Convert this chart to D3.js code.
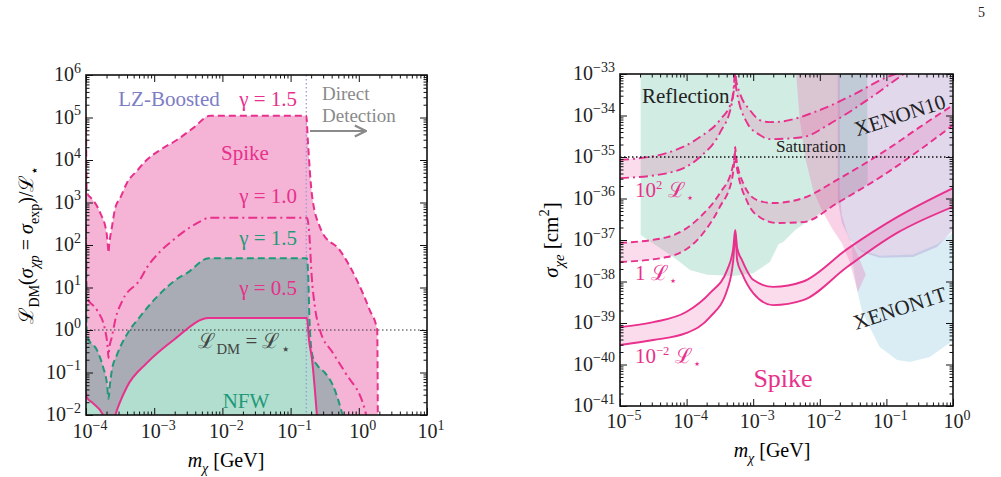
<!DOCTYPE html>
<html>
<head>
<meta charset="utf-8">
<script src="https://cdn.jsdelivr.net/npm/d3@7"></script>
<style>
  body { margin: 0; background: #fff; }
</style>
</head>
<body>
<div id="chart"></div>
<script>
// ---------- data (all values are log10 exponents: [log10 m, log10 y]) ----------

// left panel: luminosity ratio vs mass
const leftSpike15 = [[-4.0, 5.02], [-3.99, 3.3], [-3.97, 3.18], [-3.94, 3.13], [-3.79, 2.75], [-3.7, 2.3], [-3.68, 2.0], [-3.67, 1.82], [-3.66, 2.0], [-3.62, 2.42], [-3.57, 2.88], [-3.5, 3.1], [-3.4, 3.46], [-3.25, 3.75], [-3.11, 4.0], [-2.9, 4.25], [-2.67, 4.47], [-2.43, 4.75], [-2.18, 5.04], [-0.77, 5.04], [-0.745, 4.4], [-0.69, 3.22], [-0.57, 2.42], [-0.54, 2.31], [-0.28, 1.88], [-0.03, 1.18], [0.16, 0.47], [0.27, 0.0], [0.28, -2.5]];
const leftSpike10 = [[-4.0, 2.5], [-3.99, 0.78], [-3.84, 0.47], [-3.72, 0.0], [-3.68, -0.45], [-3.67, -0.66], [-3.66, -0.45], [-3.62, -0.16], [-3.57, 0.24], [-3.46, 0.71], [-3.21, 1.18], [-3.11, 1.46], [-2.91, 1.85], [-2.72, 2.12], [-2.33, 2.55], [-2.2, 2.64], [-0.76, 2.64], [-0.73, 2.35], [-0.69, 1.25], [-0.64, 0.5], [-0.57, 0.0], [-0.38, -0.54], [-0.2, -1.0], [0.1, -1.94], [0.12, -2.2]];
const leftNfw15 = [[-4.0, 1.9], [-3.99, -0.1], [-3.97, -0.19], [-3.84, -0.47], [-3.75, -0.87], [-3.69, -1.3], [-3.67, -1.62], [-3.65, -1.3], [-3.62, -0.94], [-3.55, -0.6], [-3.38, -0.05], [-3.21, 0.31], [-2.96, 0.78], [-2.62, 1.25], [-2.52, 1.34], [-2.2, 1.69], [-0.76, 1.69], [-0.745, 1.4], [-0.72, 0.1], [-0.68, -0.6], [-0.6, -0.85], [-0.5, -1.0], [-0.38, -1.3], [-0.22, -2.1]];
const leftNfw05 = [[-4.0, -1.45], [-3.99, -1.58], [-3.9, -1.72], [-3.75, -2.0], [-3.67, -2.6], [-3.57, -2.0], [-3.4, -1.34], [-3.11, -0.78], [-2.72, -0.24], [-2.2, 0.28], [-0.76, 0.28], [-0.73, -0.24], [-0.69, -0.64], [-0.61, -2.1]];
const leftDirectMass = -0.77;
const leftRefLevel = 0;

// right panel: cross section vs mass
const bandHighUpper = [[-5.0, -35.07], [-4.29, -34.9], [-3.8, -34.52], [-3.5, -34.11], [-3.32, -33.63], [-3.28, -33.1], [-3.27, -32.9], [-3.26, -33.1], [-3.2, -33.46], [-3.05, -33.87], [-2.9, -34.11], [-2.75, -34.16], [-2.6, -34.15], [-2.05, -33.9], [-1.5, -33.5], [-1.0, -33.08], [-0.83, -32.98]];
const bandHighLower = [[-5.0, -35.51], [-4.29, -35.39], [-3.8, -35.0], [-3.5, -34.42], [-3.32, -33.7], [-3.28, -33.2], [-3.27, -32.95], [-3.26, -33.3], [-3.09, -34.18], [-2.9, -34.47], [-2.75, -34.57], [-2.25, -34.52], [-1.85, -34.2], [-1.29, -33.63], [-0.8, -33.07], [-0.72, -32.98]];
const bandMidUpper = [[-5.0, -37.07], [-4.29, -36.93], [-3.8, -36.45], [-3.5, -35.87], [-3.32, -35.31], [-3.28, -34.95], [-3.27, -34.76], [-3.26, -34.95], [-3.15, -35.63], [-2.94, -36.04], [-2.7, -36.11], [-2.25, -35.99], [-1.74, -35.55], [-1.0, -34.83], [-0.5, -34.28], [0.0, -33.75]];
const bandMidLower = [[-5.0, -37.53], [-4.29, -37.41], [-3.8, -36.93], [-3.5, -36.2], [-3.32, -35.55], [-3.28, -35.05], [-3.27, -34.85], [-3.26, -35.1], [-3.08, -36.11], [-2.9, -36.45], [-2.64, -36.59], [-2.25, -36.57], [-1.74, -36.11], [-1.0, -35.39], [-0.5, -34.83], [0.0, -34.23]];
const bandLowUpper = [[-5.0, -39.1], [-4.5, -38.98], [-4.0, -38.73], [-3.65, -38.28], [-3.39, -37.72], [-3.3, -37.2], [-3.27, -36.76], [-3.24, -37.2], [-3.17, -37.48], [-3.0, -37.96], [-2.7, -38.13], [-2.25, -38.0], [-1.59, -37.22], [-0.84, -36.45], [0.0, -35.75]];
const bandLowLower = [[-5.0, -39.53], [-4.5, -39.41], [-4.0, -39.24], [-3.65, -38.86], [-3.39, -38.2], [-3.3, -37.5], [-3.27, -36.9], [-3.24, -37.5], [-3.17, -37.8], [-3.0, -38.28], [-2.7, -38.57], [-2.25, -38.45], [-1.59, -37.65], [-0.84, -36.83], [0.0, -36.2]];
const saturationLevel = -35;

// excluded regions (outline points)
const reflectionRegion = [[-4.69, -32.5], [-1.29, -32.5], [-1.28, -35.63], [-1.7, -36.11], [-2.0, -36.35], [-2.37, -36.76], [-2.55, -37.05], [-2.62, -37.1], [-2.75, -37.53], [-3.0, -37.8], [-3.3, -37.87], [-3.69, -37.84], [-3.95, -37.72], [-4.14, -37.48], [-4.4, -37.19], [-4.69, -36.88]];
const pinkRegion = [[-2.38, -32.5], [-2.3, -34.11], [-2.21, -35.07], [-2.1, -35.8], [-1.97, -36.28], [-1.82, -36.71], [-1.67, -37.07], [-1.55, -37.53], [-1.47, -38.01], [-1.43, -38.25], [-1.31, -37.84], [-1.43, -37.36], [-1.58, -36.88], [-1.67, -36.4], [-1.7, -35.8], [-1.7, -32.5]];
const xenon10Region = [[-1.73, -32.5], [-1.73, -36.04], [-1.67, -36.57], [-1.55, -37.0], [-1.37, -37.29], [-1.1, -37.43], [-0.6, -37.41], [-0.24, -37.17], [0.0, -36.76], [0.1, -36.6], [0.1, -32.5]];
const xenon1tRegion = [[-1.52, -37.1], [-1.5, -37.6], [-1.44, -38.2], [-1.37, -38.69], [-1.29, -38.98], [-1.1, -39.58], [-0.84, -39.89], [-0.65, -39.94], [-0.35, -39.82], [-0.05, -39.48], [0.1, -39.4], [0.1, -36.7], [-0.24, -37.1], [-0.6, -37.35], [-1.1, -37.38], [-1.37, -37.24]];

// ---------- setup ----------
const W = 1001, H = 477;
const pink = "#e8308c", green = "#1f9a78";
const svg = d3.select("#chart").append("svg")
    .attr("width", W).attr("height", H)
    .attr("font-family", "'Liberation Serif', 'DejaVu Serif', serif");

function rich(sel, parts, size) {
    let shift = 0;
    parts.forEach(p => {
        const t = sel.append("tspan").text(p.t);
        const target = p.sub ? size * 0.28 : p.sup ? -size * 0.42 : 0;
        if (target - shift !== 0) t.attr("dy", target - shift);
        shift = target;
        if (p.sub || p.sup) t.attr("font-size", size * 0.7);
        if (p.it) t.attr("font-style", "italic");
    });
    return sel;
}

function makePanel(id, cfg) {
    const p = {};
    p.x = d3.scaleLog().domain([10 ** cfg.xLo, 10 ** cfg.xHi]).range([cfg.left, cfg.right]);
    p.y = d3.scaleLog().domain([10 ** cfg.yLo, 10 ** cfg.yHi]).range([cfg.bottom, cfg.top]);
    p.cfg = cfg;
    svg.append("clipPath").attr("id", id).append("rect")
        .attr("x", cfg.left).attr("y", cfg.top)
        .attr("width", cfg.right - cfg.left).attr("height", cfg.bottom - cfg.top);
    p.plot = svg.append("g").attr("clip-path", `url(#${id})`);
    p.line = d3.line().x(d => p.x(10 ** d[0])).y(d => p.y(10 ** d[1])).curve(d3.curveMonotoneX);
    p.poly = d3.line().x(d => p.x(10 ** d[0])).y(d => p.y(10 ** d[1])).curve(d3.curveLinearClosed);
    p.area = d3.area().x(d => p.x(10 ** d[0])).y0(cfg.bottom).y1(d => p.y(10 ** d[1])).curve(d3.curveMonotoneX);
    return p;
}

function drawAxes(p) {
    const c = p.cfg;
    const g = svg.append("g");
    const major = (lo, hi) => d3.range(lo, hi + 1).map(e => 10 ** e);
    const minor = (lo, hi) => d3.range(lo, hi).flatMap(e => d3.range(2, 10).map(k => k * 10 ** e));
    const sides = [
        [d3.axisBottom(p.x), `translate(0,${c.bottom})`, major(c.xLo, c.xHi), minor(c.xLo, c.xHi)],
        [d3.axisTop(p.x), `translate(0,${c.top})`, major(c.xLo, c.xHi), minor(c.xLo, c.xHi)],
        [d3.axisLeft(p.y), `translate(${c.left},0)`, major(c.yLo, c.yHi), minor(c.yLo, c.yHi)],
        [d3.axisRight(p.y), `translate(${c.right},0)`, major(c.yLo, c.yHi), minor(c.yLo, c.yHi)]
    ];
    sides.forEach(([ax, tr, maj, mnr]) => {
        [[maj, -7], [mnr, -3.5]].forEach(([vals, len]) => {
            const a = g.append("g").attr("transform", tr)
                .call(ax.tickValues(vals).tickSize(len).tickFormat(""));
            a.select(".domain").remove();
            a.selectAll("line").attr("stroke", "#111").attr("stroke-width", 1);
        });
    });
    g.append("rect").attr("x", c.left).attr("y", c.top)
        .attr("width", c.right - c.left).attr("height", c.bottom - c.top)
        .attr("fill", "none").attr("stroke", "#111").attr("stroke-width", 1.6);

    // tick labels
    const fs = 20;
    d3.range(c.xLo, c.xHi + 1).forEach(e => {
        rich(g.append("text").attr("x", p.x(10 ** e) + 4).attr("y", c.bottom + c.xLabelGap)
            .attr("text-anchor", "middle").attr("font-size", fs).attr("fill", "#222"),
            [{t: "10"}, {t: e < 0 ? "−" + (-e) : String(e), sup: true}], fs);
    });
    d3.range(c.yLo, c.yHi + 1).forEach(e => {
        rich(g.append("text").attr("x", c.left - 5).attr("y", p.y(10 ** e) + 6)
            .attr("text-anchor", "end").attr("font-size", fs).attr("fill", "#222"),
            [{t: "10"}, {t: e < 0 ? "−" + (-e) : String(e), sup: true}], fs);
    });
}

// ---------- left panel ----------
const L = makePanel("clipL", {xLo: -4, xHi: 1, yLo: -2, yHi: 6, left: 86, right: 427, top: 75, bottom: 415, xLabelGap: 23});

L.plot.append("path").attr("d", L.area(leftSpike15)).attr("fill", "#f5b4d5");
L.plot.append("path").attr("d", L.area(leftNfw15)).attr("fill", "#a9abb5");
L.plot.append("path").attr("d", L.area(leftNfw05)).attr("fill", "#b1dece");

L.plot.append("line")
    .attr("x1", L.x(10 ** leftDirectMass)).attr("x2", L.x(10 ** leftDirectMass))
    .attr("y1", L.cfg.top).attr("y2", L.cfg.bottom)
    .attr("stroke", "#9a9ade").attr("stroke-width", 1.3).attr("stroke-dasharray", "1.5,2.5");
L.plot.append("line")
    .attr("x1", L.cfg.left).attr("x2", L.cfg.right)
    .attr("y1", L.y(10 ** leftRefLevel)).attr("y2", L.y(10 ** leftRefLevel))
    .attr("stroke", "#333").attr("stroke-width", 1.2).attr("stroke-dasharray", "1.5,2.5");

[[leftSpike15, pink, "7,4"], [leftSpike10, pink, "9,4,2,4"], [leftNfw15, green, "7,4"], [leftNfw05, pink, null]]
    .forEach(([d, col, dash]) => {
        L.plot.append("path").attr("d", L.line(d)).attr("fill", "none")
            .attr("stroke", col).attr("stroke-width", 2).attr("stroke-dasharray", dash);
    });

drawAxes(L);

const lt = svg.append("g").attr("font-size", 21);
lt.append("text").attr("x", 169).attr("y", 106).attr("text-anchor", "middle").attr("fill", "#7d7dc4").text("LZ-Boosted");
[["γ = 1.5", 106, pink], ["γ = 1.0", 203, pink], ["γ = 1.5", 245, green], ["γ = 0.5", 295, pink]].forEach(([t, y, c]) => {
    lt.append("text").attr("x", 297).attr("y", y).attr("text-anchor", "end").attr("fill", c).text(t);
});
lt.append("text").attr("x", 245).attr("y", 160).attr("text-anchor", "middle").attr("fill", pink).text("Spike");
lt.append("text").attr("x", 246).attr("y", 408).attr("text-anchor", "middle").attr("fill", green).text("NFW");
rich(lt.append("text").attr("x", 244).attr("y", 348).attr("text-anchor", "middle").attr("fill", "#444"),
    [{t: "ℒ"}, {t: "DM", sub: true}, {t: " = ℒ"}, {t: "⋆", sub: true}], 21);
lt.append("text").attr("x", 322).attr("y", 100).attr("font-size", 19).attr("fill", "#8a8a8a").text("Direct");
lt.append("text").attr("x", 322).attr("y", 122).attr("font-size", 19).attr("fill", "#8a8a8a").text("Detection");

svg.append("defs").append("marker").attr("id", "arr").attr("viewBox", "0 0 10 10")
    .attr("refX", 9).attr("refY", 5).attr("markerWidth", 7).attr("markerHeight", 7).attr("orient", "auto")
    .append("path").attr("d", "M1,1 L9,5 L1,9").attr("fill", "none").attr("stroke", "#8a8a8a").attr("stroke-width", 1.6);
svg.append("line").attr("x1", 310).attr("x2", 366).attr("y1", 131).attr("y2", 131)
    .attr("stroke", "#8a8a8a").attr("stroke-width", 2).attr("marker-end", "url(#arr)");

rich(svg.append("text").attr("transform", "translate(33,245) rotate(-90)").attr("text-anchor", "middle").attr("font-size", 20),
    [{t: "ℒ"}, {t: "DM", sub: true}, {t: "("}, {t: "σ", it: true}, {t: "χp", sub: true, it: true}, {t: " = "}, {t: "σ", it: true}, {t: "exp", sub: true}, {t: ")/ℒ"}, {t: "⋆", sub: true}], 20);
rich(svg.append("text").attr("x", 226).attr("y", 467).attr("text-anchor", "middle").attr("font-size", 20),
    [{t: "m", it: true}, {t: "χ", sub: true, it: true}, {t: " [GeV]"}], 20);

// ---------- right panel ----------
const R = makePanel("clipR", {xLo: -5, xHi: 0, yLo: -41, yHi: -33, left: 620, right: 953, top: 74, bottom: 406, xLabelGap: 22});

R.plot.append("path").attr("d", R.poly(reflectionRegion)).attr("fill", "#66bfa0").attr("fill-opacity", 0.3);
R.plot.append("path").attr("d", R.poly(xenon1tRegion)).attr("fill", "#8cc8e0").attr("fill-opacity", 0.32);
R.plot.append("path").attr("d", R.poly(pinkRegion)).attr("fill", "#f06ab0").attr("fill-opacity", 0.3);
R.plot.append("path").attr("d", R.poly(xenon10Region)).attr("fill", "#9a7fc0").attr("fill-opacity", 0.3);

[[bandHighUpper, bandHighLower, "9,4,2,4"], [bandMidUpper, bandMidLower, "7,4"], [bandLowUpper, bandLowLower, null]]
    .forEach(([up, lo, dash]) => {
        const d = R.line(up) + R.line(lo.slice().reverse()).replace(/^M/, "L") + "Z";
        R.plot.append("path").attr("d", d).attr("fill", "#ee5fa8").attr("fill-opacity", 0.22);
        [up, lo].forEach(c => {
            R.plot.append("path").attr("d", R.line(c)).attr("fill", "none")
                .attr("stroke", pink).attr("stroke-width", 1.9).attr("stroke-dasharray", dash);
        });
    });

R.plot.append("line")
    .attr("x1", R.cfg.left).attr("x2", R.cfg.right)
    .attr("y1", R.y(10 ** saturationLevel)).attr("y2", R.y(10 ** saturationLevel))
    .attr("stroke", "#111").attr("stroke-width", 1.6).attr("stroke-dasharray", "1.5,2.5");

drawAxes(R);

const rt = svg.append("g").attr("font-size", 21);
rt.append("text").attr("x", 642).attr("y", 103).attr("fill", "#222").text("Reflection");
rt.append("text").attr("x", 811).attr("y", 152).attr("text-anchor", "middle").attr("font-size", 17).attr("fill", "#222").text("Saturation");
rt.append("text").attr("transform", "translate(902,122) rotate(-18)").attr("text-anchor", "middle").attr("fill", "#222").text("XENON10");
rt.append("text").attr("transform", "translate(902,315) rotate(-18)").attr("text-anchor", "middle").attr("fill", "#222").text("XENON1T");
rich(rt.append("text").attr("x", 635).attr("y", 197).attr("fill", pink), [{t: "10"}, {t: "2", sup: true}, {t: " ℒ"}, {t: "⋆", sub: true}], 18);
rich(rt.append("text").attr("x", 635).attr("y", 280).attr("fill", pink), [{t: "1 ℒ"}, {t: "⋆", sub: true}], 18);
rich(rt.append("text").attr("x", 635).attr("y", 363).attr("fill", pink), [{t: "10"}, {t: "−2", sup: true}, {t: " ℒ"}, {t: "⋆", sub: true}], 18);
rt.append("text").attr("x", 783).attr("y", 387).attr("text-anchor", "middle").attr("font-size", 26).attr("fill", pink).text("Spike");

rich(svg.append("text").attr("transform", "translate(558,240) rotate(-90)").attr("text-anchor", "middle").attr("font-size", 21),
    [{t: "σ", it: true}, {t: "χe", sub: true, it: true}, {t: " [cm"}, {t: "2", sup: true}, {t: "]"}], 21);
rich(svg.append("text").attr("x", 772).attr("y", 457).attr("text-anchor", "middle").attr("font-size", 20),
    [{t: "m", it: true}, {t: "χ", sub: true, it: true}, {t: " [GeV]"}], 20);

svg.append("text").attr("x", 978).attr("y", 17).attr("font-size", 14).attr("fill", "#222").text("5");
</script>
</body>
</html>
